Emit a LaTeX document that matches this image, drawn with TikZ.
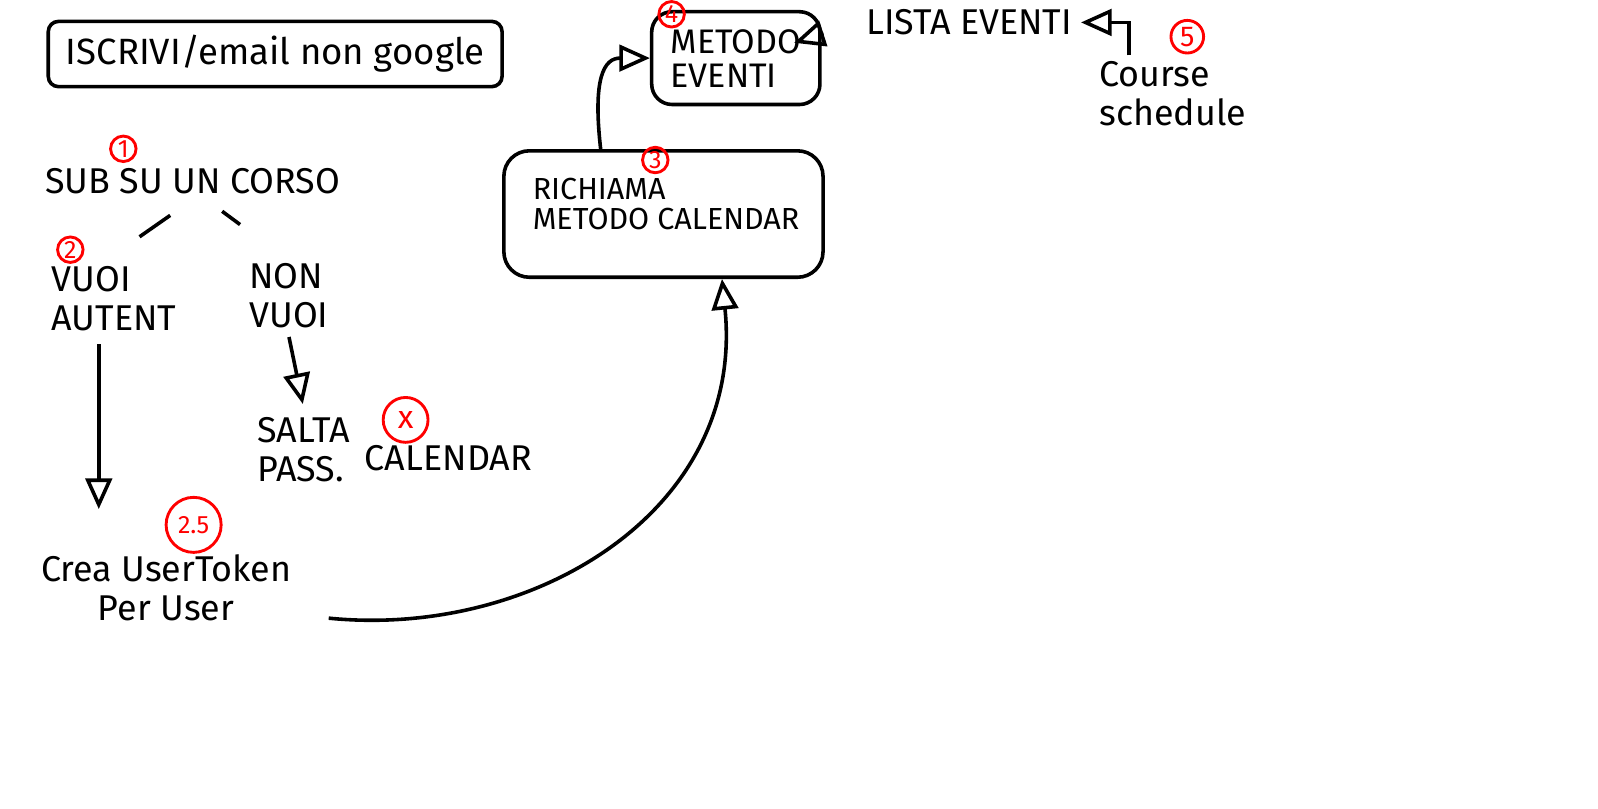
\documentclass[tikz,border=0pt]{standalone}
\usepackage{fontspec}
\setmainfont{Fira Sans}
\usepackage{tikz}
\usetikzlibrary{arrows.meta}

\begin{document}
\begin{tikzpicture}[x=0.01cm,y=-0.01cm,line width=1pt]
\useasboundingbox (0,0) rectangle (1568,793);

\tikzset{>={Triangle[open,length=3mm,width=2.6mm]}}
\def\fs{\fontsize{10}{11}\selectfont}
\tikzstyle{plain} = [draw=none, fill=none, font=\fs, align=left, inner sep=2pt];
\tikzstyle{box} = [draw, rounded corners=2mm, font=\fs, align=left];
\tikzstyle{num} = [draw=red, text=red, circle, line width=0.8pt,
	inner sep=0pt, minimum size=2.5mm, font=\scriptsize];

\node[box, rounded corners=1mm, minimum width=4.45cm, minimum height=0.64cm,
	font=\fontsize{10.2}{10}\selectfont] (title) at (270,53) {ISCRIVI/email non google};

\node[plain] (sub) at (189,178) {SUB SU UN CORSO};
\node[plain, anchor=west] (vuoi) at (42,293) {VUOI\\AUTENT};
\node[plain, anchor=west] (nonvuoi) at (236,290) {NON\\VUOI};
\node[plain, anchor=west] (salta) at (244,441) {SALTA\\PASS.};
\node[plain] (calendar) at (440,450) {CALENDAR};
\node[plain, align=center] (crea) at (163,577) {Crea UserToken\\Per User};

\node[box, rounded corners=2.5mm, minimum width=3.13cm, minimum height=1.24cm] (calbox) at (651,210) {};
\node[plain, anchor=west, font=\fontsize{8.5}{8.5}\selectfont] (richiama) at (514,200) {RICHIAMA\\METODO CALENDAR};
\node[box, minimum width=1.65cm, minimum height=0.91cm, font=\fontsize{9.5}{9.5}\selectfont] (evbox) at (722,57) {METODO\\EVENTI};
\node[plain] (lista) at (951,22) {LISTA EVENTI};
\node[plain, anchor=west] (course) at (1070,92) {Course\\schedule};

\node[num] (n1) at (121,146) {1};
\node[num] (n2) at (69,245) {2};
\node[num] (n3) at (643,157) {3};
\node[num] (n4) at (659,14) {4};
\node[num, minimum size=3.2mm, font=\footnotesize] (n5) at (1165,36) {5};
\node[num, minimum size=4.4mm, font=\small] (nx) at (398,412) {x};
\node[num, minimum size=5.4mm] (n25) at (190,515) {2.5};

\draw ([shift={(-22,12)}]sub.south) -- ([shift={(25,-20)}]vuoi.north);
\draw ([shift={(29,8)}]sub.south) -- ([shift={(-48,-29)}]nonvuoi.north);

\draw[->, shorten >=3.6mm] ([xshift=-1.5mm,yshift=-0.4mm]vuoi.south) -- ([xshift=-1.5mm]vuoi.south |- crea.north);
\draw[->, shorten >=0.4mm] (nonvuoi.south) -- (salta.north);
\draw[->] ([shift={(28,-12)}]crea.south east) .. controls +(200,20) and +(23,228) .. (calbox.-48);
\draw[->] (calbox.134) .. controls +(-8,-70) and +(-45,0) .. (evbox.west);
\draw[->, shorten <=3.5mm] (lista.west) -- ([xshift=-2.7mm,yshift=1.5mm]evbox.east);
\draw[->] ([xshift=3.8mm,yshift=-0.3mm]course.north west) |- (lista.east);

\end{tikzpicture}
\end{document}
